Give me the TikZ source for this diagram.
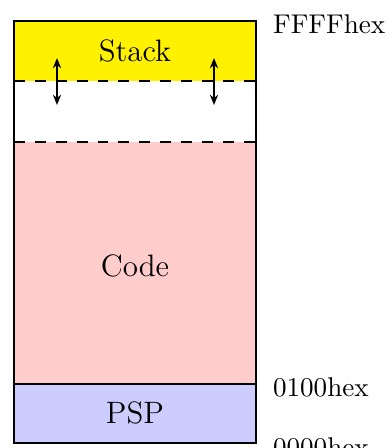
\documentclass[tikz,border=0pt]{standalone}
\usepackage{tikz}
\usetikzlibrary{arrows.meta}
\definecolor{stackyellow}{RGB}{255,241,0}
\begin{document}
\begin{tikzpicture}[x=0.3876pt,y=-0.3876pt,
  region/.style={font=\large},
  addr/.style={anchor=west,font=\fontsize{10.5}{12}\selectfont},
  border/.style={line width=0.8pt},
  boundary/.style={line width=0.8pt,dash pattern=on 4.2pt off 3.9pt},
  growarrow/.style={line width=0.6pt,{Stealth[length=4pt,width=3.2pt]}-{Stealth[length=4pt,width=3.2pt]}}]
\useasboundingbox (0,0) rectangle (387,448);
% memory regions
\fill[stackyellow] (14,21) rectangle (256,81);
\fill[white] (14,81) rectangle (256,142);
\fill[red!20] (14,142) rectangle (256,384);
\fill[blue!20] (14,384) rectangle (256,443);
% region labels
\node[region] (stack) at (135,51) {Stack};
\node[region] (code) at (135,266) {Code};
\node[region] (psp) at (135,413) {PSP};
% boundaries between regions
\coordinate (s1l) at (14,81); \coordinate (s1r) at (256,81);
\coordinate (s2l) at (14,142); \coordinate (s2r) at (256,142);
\coordinate (pl) at (14,384); \coordinate (pr) at (256,384);
\draw[boundary] (s1l) -- (s1r);
\draw[boundary] (s2l) -- (s2r);
\draw[border] (pl) -- (pr);
\draw[border] (14,21) rectangle (256,443);
% stack growth arrows
\coordinate (a1t) at (57,58); \coordinate (a1b) at (57,105);
\coordinate (a2t) at (214,58); \coordinate (a2b) at (214,105);
\draw[growarrow] (a1t) -- (a1b);
\draw[growarrow] (a2t) -- (a2b);
% addresses
\node[addr] (top) at (264,24) {FFFFhex};
\node[addr] (mid) at (264,387) {0100hex};
\node[addr] (bot) at (264,447) {0000hex};
\end{tikzpicture}
\end{document}
